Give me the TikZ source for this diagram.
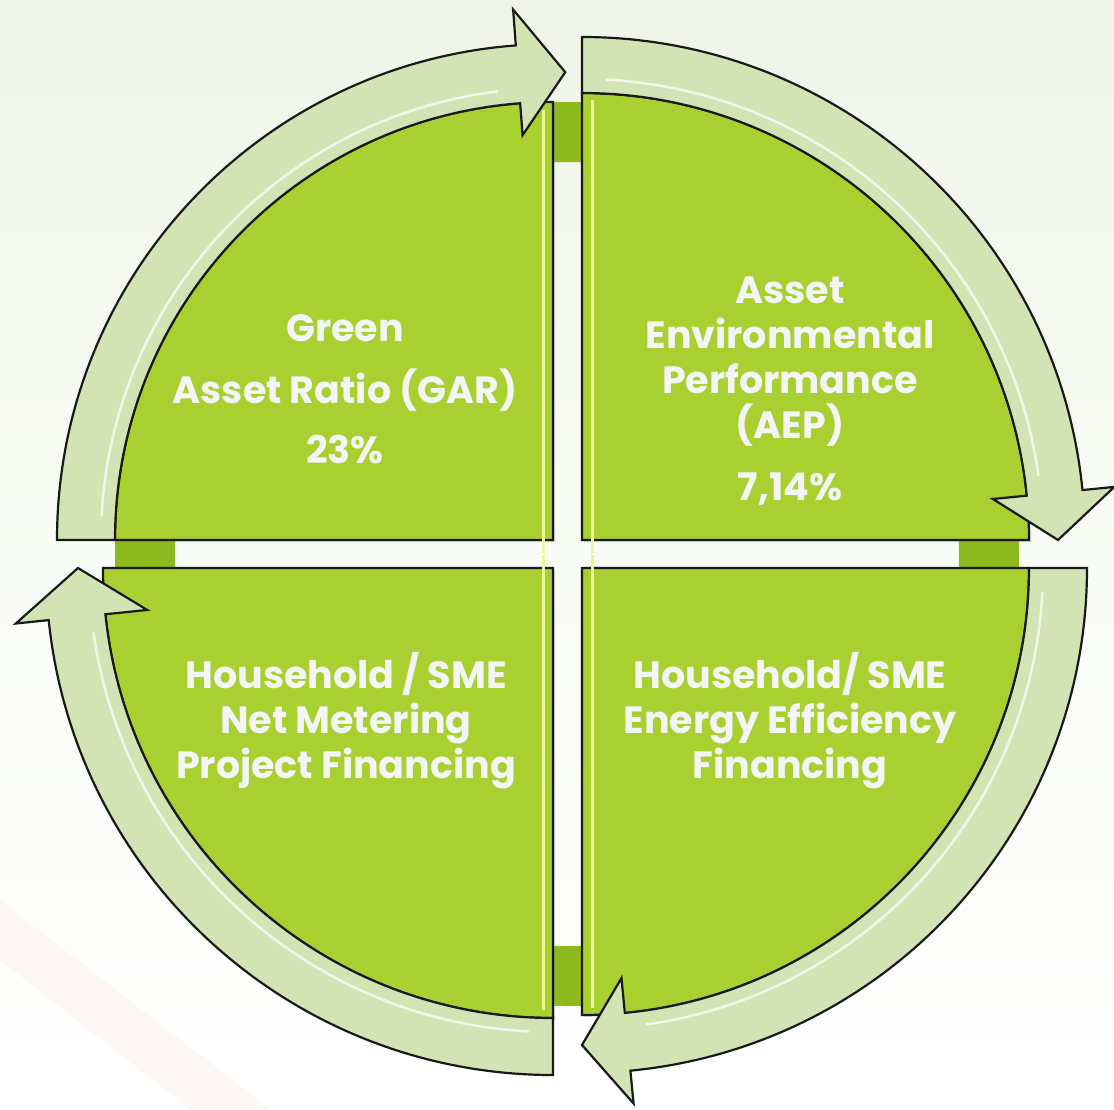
\documentclass[tikz,border=0pt]{standalone}
\usepackage{fontspec}
\setmainfont{Poppins}
\usetikzlibrary{shadows}

\definecolor{leaf}{RGB}{168,208,48}
\definecolor{leafdark}{RGB}{142,186,32}
\definecolor{bandfill}{RGB}{210,228,180}
\definecolor{edgeline}{RGB}{25,25,25}
\definecolor{glow}{RGB}{236,248,150}
\definecolor{labeltext}{RGB}{243,245,247}
\definecolor{paper}{RGB}{240,245,232}
\definecolor{blush}{RGB}{253,242,240}

\tikzset{
  sector/.style={fill=leaf, draw=edgeline, line width=2.2pt,
    drop shadow={opacity=0.25, shadow xshift=2pt, shadow yshift=-2pt}},
  cyclearrow/.style={fill=bandfill, draw=edgeline, line width=2.2pt, line join=miter},
  gloss/.style={draw=white, line width=2.5pt, opacity=0.7},
  bevel/.style={draw=glow, line width=3pt},
  quadtext/.style={text=labeltext, font=\fontsize{38}{45}\selectfont\bfseries,
    align=center, anchor=north, inner sep=0pt}
}

\begin{document}
\begin{tikzpicture}[x=1pt,y=1pt]
	\useasboundingbox (0,0) rectangle (1114,-1109);
	\shade[top color=paper, bottom color=white, middle color=white!60!paper] (0,0) rectangle (1114,-1109);
	\fill[blush, opacity=0.6] (0,-900) -- (0,-960) -- (190,-1109) -- (270,-1109) -- cycle;
	\fill[leafdark, even odd rule] (567,-554) circle[radius=452] (567,-554) circle[radius=392];
	
	\begin{scope}[shift={(553,-540)}]
		\path[sector] (0,0) -- (180:438) arc[start angle=180, end angle=90, radius=438] -- cycle;
		\draw[bevel] (-10,-13) -- (-10,430);
	\end{scope}
	\begin{scope}[shift={(582,-540)}]
		\path[sector] (0,0) -- (90:447) arc[start angle=90, end angle=0, radius=447] -- cycle;
		\draw[bevel] (10,-13) -- (10,440);
	\end{scope}
	\begin{scope}[shift={(582,-568)}]
		\path[sector] (0,0) -- (0:447) arc[start angle=0, end angle=-90, radius=447] -- cycle;
		\draw[bevel] (10,13) -- (10,-440);
	\end{scope}
	\begin{scope}[shift={(553,-568)}]
		\path[sector] (0,0) -- (-90:450) arc[start angle=-90, end angle=-180, radius=450] -- cycle;
		\draw[bevel] (-10,13) -- (-10,-442);
	\end{scope}
	
	\begin{scope}[shift={(553,-540)}]
		\path[cyclearrow] (180:438) -- (180:496) arc[start angle=180, end angle=94.3, radius=496]
			-- (94.3:532) -- (88.5:468) -- (94.3:406) -- (94.3:438)
			arc[start angle=94.3, end angle=180, radius=438] -- cycle;
		\draw[gloss] (177:452) arc[start angle=177, end angle=97, radius=452];
	\end{scope}
	\begin{scope}[shift={(582,-540)}]
		\path[cyclearrow] (90:447) -- (90:503) arc[start angle=90, end angle=5.7, radius=503]
			-- (5.7:535) -- (0:476) -- (5.7:413) -- (5.7:447)
			arc[start angle=5.7, end angle=90, radius=447] -- cycle;
		\draw[gloss] (87:461) arc[start angle=87, end angle=8, radius=461];
	\end{scope}
	\begin{scope}[shift={(582,-568)}]
		\path[cyclearrow] (0:447) -- (0:505) arc[start angle=0, end angle=-84.5, radius=505]
			-- (-84.5:538) -- (-90:477) -- (-84.5:412) -- (-84.5:447)
			arc[start angle=-84.5, end angle=0, radius=447] -- cycle;
		\draw[gloss] (-3:461) arc[start angle=-3, end angle=-82, radius=461];
	\end{scope}
	\begin{scope}[shift={(553,-568)}]
		\path[cyclearrow] (-90:450) -- (-90:507) arc[start angle=-90, end angle=-174.1, radius=507]
			-- (-174.1:540) -- (-180:475) -- (-174.1:408) -- (-174.1:450)
			arc[start angle=-174.1, end angle=-90, radius=450] -- cycle;
		\draw[gloss] (-93:464) arc[start angle=-93, end angle=-172, radius=464];
	\end{scope}
	
	\node[quadtext] (gar) at (345,-314) {Green\\[17pt]Asset Ratio (GAR)\\[15pt]23\%};
	\node[quadtext] (aep) at (790,-277) {Asset\\Environmental\\Performance\\(AEP)\\[17pt]7,14\%};
	\node[quadtext] (netmeter) at (346,-652) {Household / SME\\Net Metering\\Project Financing};
	\node[quadtext] (efficiency) at (790,-652) {Household/ SME\\Energy Efficiency\\Financing};
	
\end{tikzpicture}
\end{document}
